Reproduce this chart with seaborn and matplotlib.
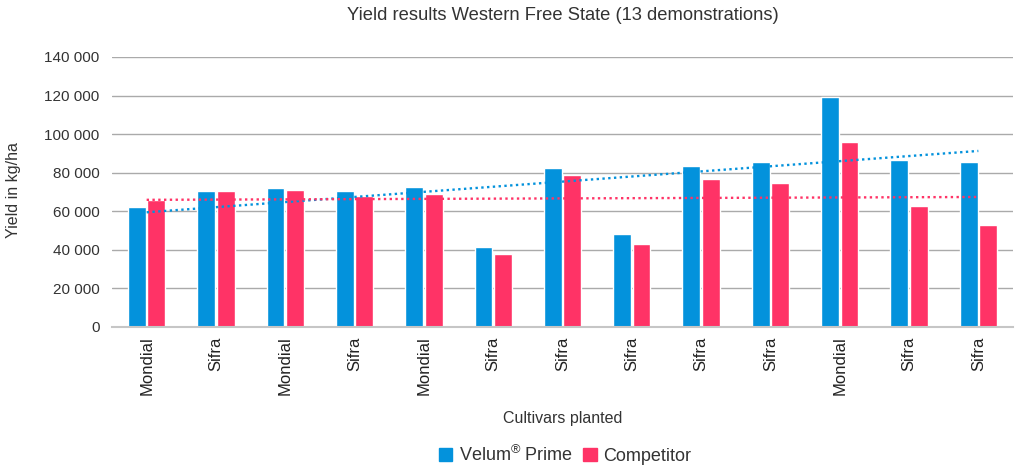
import pandas as pd
import numpy as np
import matplotlib
matplotlib.use("Agg")
import matplotlib.pyplot as plt
import seaborn as sns
from matplotlib.patches import Patch

# data
cultivars = ["Mondial", "Sifra", "Mondial", "Sifra", "Mondial", "Sifra", "Sifra",
             "Sifra", "Sifra", "Sifra", "Mondial", "Sifra", "Sifra"]
velum = [62200, 70500, 72000, 70500, 72500, 41500, 82400,
         48200, 83400, 85500, 119300, 86500, 85500]
competitor = [66100, 70500, 71000, 67900, 68900, 37800, 78800,
              43000, 76700, 74600, 95900, 62700, 52900]
series_names = ["Velum® Prime", "Competitor"]
y_ticks = [0, 20000, 40000, 60000, 80000, 100000, 120000, 140000]

blue = "#0392dc"
pink = "#ff3366"

sns.set_style("white")
plt.rcParams["font.family"] = ["Liberation Sans", "DejaVu Sans"]
plt.rcParams["mathtext.fontset"] = "custom"
plt.rcParams["mathtext.rm"] = "Liberation Sans"

demo = list(range(len(cultivars)))
df = pd.DataFrame({
    "demo": demo * 2,
    "yield": velum + competitor,
    "series": [series_names[0]] * len(demo) + [series_names[1]] * len(demo),
})

fig = plt.figure(figsize=(10.2, 4.68), dpi=100)
ax = fig.add_axes([112 / 1020, 1 - 327 / 468, (1013 - 112) / 1020, (327 - 57) / 468])

sns.barplot(data=df, x="demo", y="yield", hue="series", hue_order=series_names,
            palette=[blue, pink], width=0.56, gap=0.08, saturation=1,
            legend=False, ax=ax)

# linear trend lines per series
for vals, c in [(velum, blue), (competitor, pink)]:
    k, b = np.polyfit(demo, vals, 1)
    xs = np.array([demo[0], demo[-1]])
    ax.plot(xs, k * xs + b, color=c, lw=1.7, linestyle=(0, (1, 1.45)),
            dash_capstyle="butt", zorder=3)

ax.set_xlim(-0.5, len(demo) - 0.5)
ax.set_ylim(0, 140000)
ax.set_yticks(y_ticks)
ax.set_yticklabels([f"{v:,}".replace(",", " ") for v in y_ticks])
ax.set_xticks(demo)
ax.set_xticklabels(cultivars, rotation=90)
ax.tick_params(axis="y", length=0, pad=9, labelsize=11, labelcolor="#333333")
ax.tick_params(axis="x", length=0, pad=7, labelsize=12, labelcolor="#222222")
ax.yaxis.grid(True, color="#aaaaaa", lw=1)
ax.set_axisbelow(True)
for s in ["top", "right", "left"]:
    ax.spines[s].set_visible(False)
ax.spines["bottom"].set_color("#c6c6c6")
ax.spines["bottom"].set_linewidth(1.5)

ax.set_xlabel("")
ax.set_ylabel("")
fig.text(14 / 1020, 1 - 190 / 468, "Yield in kg/ha", rotation=90, ha="center",
         va="center", fontsize=11.5, color="#333333")
fig.text(563 / 1020, 1 - 418 / 468, "Cultivars planted", ha="center",
         va="center", fontsize=11.5, color="#333333")
fig.text(563 / 1020, 1 - 15 / 468, "Yield results Western Free State (13 demonstrations)",
         ha="center", va="center", fontsize=13.2, color="#333333")

handles = [Patch(color=blue), Patch(color=pink)]
fig.legend(handles, ["Velum$^{®}$ Prime", "Competitor"], loc="center",
           bbox_to_anchor=(565 / 1020, 1 - 455 / 468), ncol=2, frameon=False,
           fontsize=13, handlelength=0.75, handleheight=0.75, handletextpad=0.35,
           columnspacing=0.6, labelcolor="#333333")

fig.savefig("out.png", dpi=100)
